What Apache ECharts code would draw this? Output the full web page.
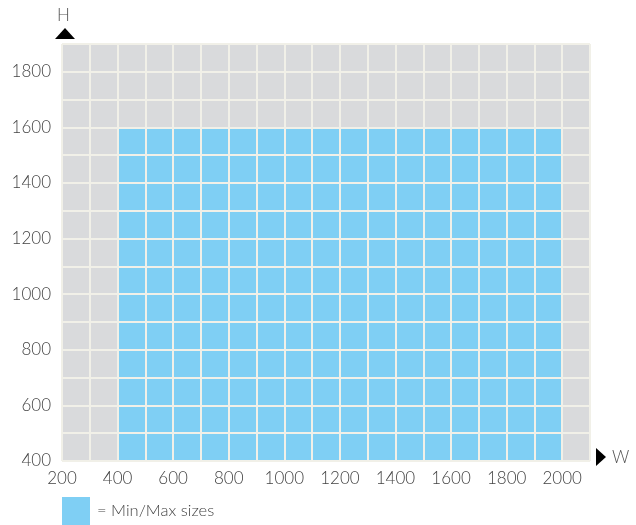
<!DOCTYPE html>
<html><head><meta charset="utf-8">
<script src="https://cdn.jsdelivr.net/npm/echarts@6/dist/echarts.min.js"></script>
<style>html,body{margin:0;padding:0;background:#fff}#c{width:636px;height:525px}</style>
</head><body><div id="c"></div>
<script>
const xRange = [200, 2100];
const yRange = [400, 1900];
const xLabelMax = 2000;
const yLabelMax = 1800;
const regionName = '= Min/Max sizes';
const regionW = [400, 2000];
const regionH = [400, 1600];

const chart = echarts.init(document.getElementById('c'), null, {renderer: 'canvas'});
const font = 'Lato, "Open Sans", sans-serif';
chart.setOption({
  animation: false,
  grid: {left: 62, right: 46, top: 44, bottom: 64, show: true, backgroundColor: '#d9dadc', borderWidth: 0},
  legend: {
    left: 62, top: 497, padding: 0, itemWidth: 28, itemHeight: 28, itemGap: 0,
    data: [{name: regionName, icon: 'rect'}],
    textStyle: {fontFamily: font, fontWeight: 300, fontSize: 16.5, color: '#444', padding: [0, 0, 0, 2]}
  },
  xAxis: {
    type: 'value', min: xRange[0], max: xRange[1], interval: 100, z: 5,
    axisLine: {show: false}, axisTick: {show: false},
    splitLine: {show: true, lineStyle: {color: '#f1f0e8', width: 2}},
    axisLabel: {
      fontFamily: font, fontWeight: 300, fontSize: 17, color: '#444', margin: 9,
      formatter: v => (v % 200 === 0 && v <= xLabelMax) ? String(v) : ''
    }
  },
  yAxis: {
    type: 'value', min: yRange[0], max: yRange[1], interval: 100, z: 5,
    axisLine: {show: false}, axisTick: {show: false},
    splitLine: {show: true, lineStyle: {color: '#f1f0e8', width: 2}},
    axisLabel: {
      fontFamily: font, fontWeight: 300, fontSize: 17, color: '#444', margin: 11,
      formatter: v => (v % 200 === 0 && v <= yLabelMax) ? String(v) : ''
    }
  },
  series: [{
    name: regionName, type: 'custom', z: 2,
    itemStyle: {color: '#7fcff4'},
    data: [[regionW[0], regionH[0], regionW[1], regionH[1]]],
    renderItem: function (params, api) {
      const p1 = api.coord([api.value(0), api.value(3)]);
      const p2 = api.coord([api.value(2), api.value(1)]);
      return {type: 'rect', shape: {x: p1[0], y: p1[1], width: p2[0] - p1[0], height: p2[1] - p1[1]},
        style: {fill: '#7fcff4'}};
    }
  }],
  graphic: [
    {type: 'polygon', shape: {points: [[55, 39], [75, 39], [65, 28]]}, style: {fill: '#000'}},
    {type: 'text', left: 57, top: 7, style: {text: 'H', font: '300 17px ' + font, fill: '#555'}},
    {type: 'polygon', shape: {points: [[596, 448], [596, 466], [606, 457]]}, style: {fill: '#000'}},
    {type: 'text', left: 612, top: 449, style: {text: 'W', font: '300 17px ' + font, fill: '#555'}}
  ]
});
</script></body></html>
